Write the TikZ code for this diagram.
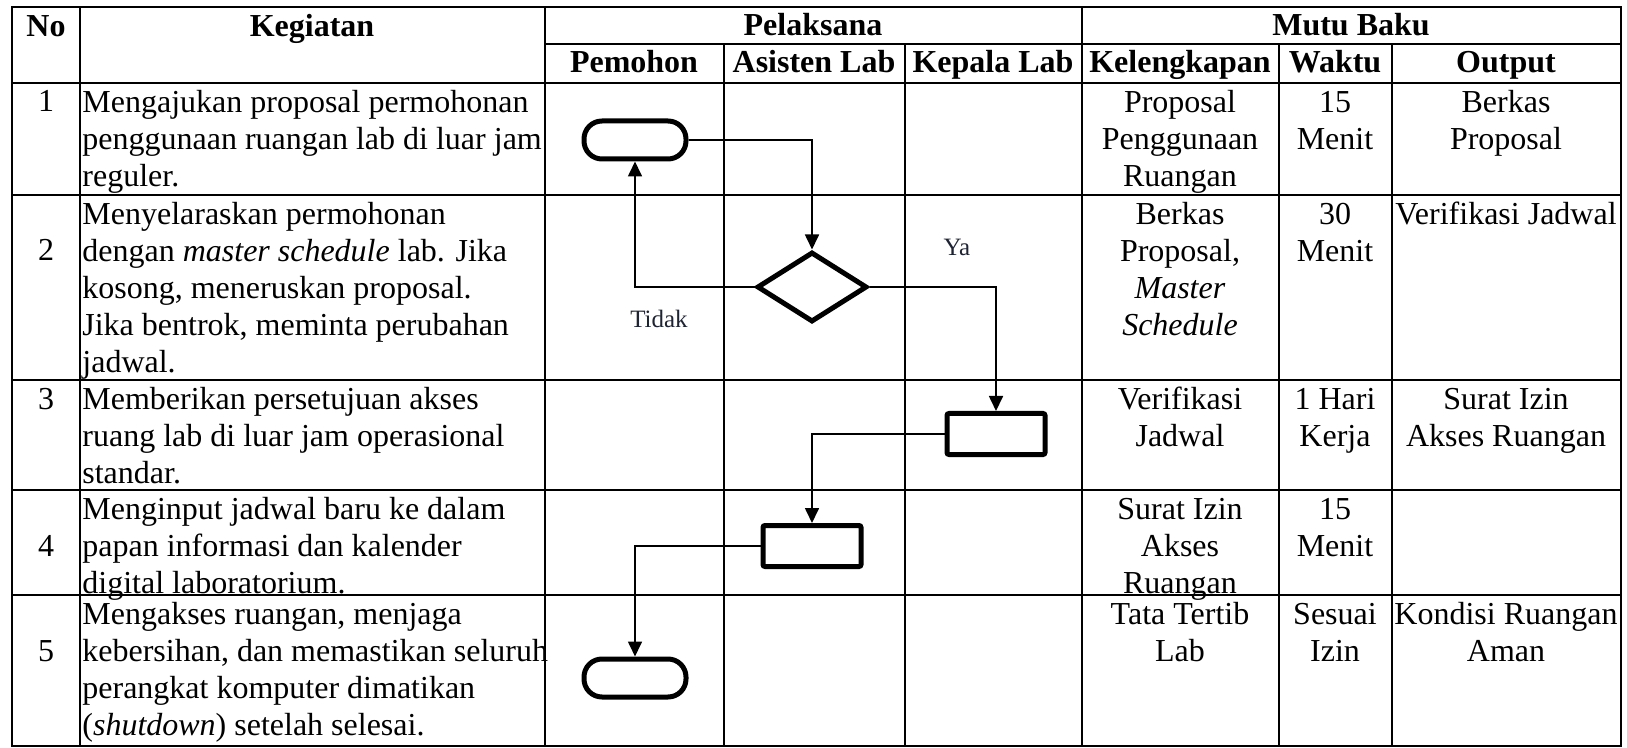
\documentclass[tikz,border=0pt]{standalone}
\usepackage{fontspec}
\setmainfont{Liberation Serif}
\usetikzlibrary{shapes.geometric,arrows.meta}
\definecolor{labc}{RGB}{30,36,52}
\begin{document}
\begin{tikzpicture}[x=0.5pt,y=-0.5pt,
  grid/.style={line width=1.35pt},
  body/.style={font=\fontsize{16}{18.5}\selectfont, inner sep=0pt},
  head/.style={font=\fontsize{16}{18.5}\selectfont\bfseries, inner sep=0pt, anchor=base},
  num/.style={body, anchor=base},
  lcell/.style={body, anchor=north west, align=left},
  ccell/.style={body, anchor=north, align=center},
  term/.style={draw, line width=2.5pt, rounded corners=9pt, minimum width=51pt, minimum height=19pt, inner sep=0pt},
  proc/.style={draw, line width=2.5pt, rounded corners=1pt, minimum width=49pt, minimum height=20.5pt, inner sep=0pt},
  dec/.style={draw, diamond, line width=2.5pt, minimum width=55pt, minimum height=35pt, inner sep=0pt},
  flow/.style={line width=0.85pt, -{Triangle[length=7.5pt,width=7pt]}},
  lab/.style={font=\fontsize{12.5}{15}\selectfont, text=labc, inner sep=0pt}
]
\useasboundingbox (0,0) rectangle (1627,748);
% table grid
\draw[grid] (12,7) rectangle (1621,746);
\foreach \x in {80,545,1082} \draw[grid] (\x,7) -- (\x,746);
\foreach \x in {724,905,1279,1392} \draw[grid] (\x,44) -- (\x,746);
\draw[grid] (545,44) -- (1621,44);
\foreach \y in {83,195,380,490,595} \draw[grid] (12,\y) -- (1621,\y);
% headers
\node[head] (hno) at (46,37) {No};
\node[head] (hkeg) at (312,37) {Kegiatan};
\node[head] (hpel) at (813,36) {Pelaksana};
\node[head] (hmutu) at (1351,36) {Mutu Baku};
\node[head] (hpem) at (634,73) {Pemohon};
\node[head] (hasi) at (814,73) {Asisten Lab};
\node[head] (hkep) at (993,73) {Kepala Lab};
\node[head] (hkel) at (1180,73) {Kelengkapan};
\node[head] (hwak) at (1335,73) {Waktu};
\node[head] (hout) at (1506,73) {Output};
% numbers
\node[num] (n1) at (46,112) {1};
\node[num] (n2) at (46,261) {2};
\node[num] (n3) at (46,409) {3};
\node[num] (n4) at (46,556) {4};
\node[num] (n5) at (46,661) {5};
% kegiatan
\node[lcell] (k1) at (82,86) {\strut Mengajukan proposal permohonan\\penggunaan ruangan lab di luar jam\\reguler.};
\node[lcell] (k2) at (82,198) {\strut Menyelaraskan permohonan\\dengan \textit{master schedule} lab. Jika\\kosong, meneruskan proposal.\\Jika bentrok, meminta perubahan\\jadwal.};
\node[lcell] (k3) at (82,383) {\strut Memberikan persetujuan akses\\ruang lab di luar jam operasional\\standar.};
\node[lcell] (k4) at (82,493) {\strut Menginput jadwal baru ke dalam\\papan informasi dan kalender\\digital laboratorium.};
\node[lcell] (k5) at (82,598) {\strut Mengakses ruangan, menjaga\\kebersihan, dan memastikan seluruh\\perangkat komputer dimatikan\\(\textit{shutdown}) setelah selesai.};
% mutu baku
\node[ccell] (a1) at (1180,86) {\strut Proposal\\Penggunaan\\Ruangan};
\node[ccell] (b1) at (1335,86) {\strut 15\\Menit};
\node[ccell] (c1) at (1506,86) {\strut Berkas\\Proposal};
\node[ccell] (a2) at (1180,198) {\strut Berkas\\Proposal,\\\textit{Master}\\\textit{Schedule}};
\node[ccell] (b2) at (1335,198) {\strut 30\\Menit};
\node[ccell] (c2) at (1506,198) {\strut Verifikasi Jadwal};
\node[ccell] (a3) at (1180,383) {\strut Verifikasi\\Jadwal};
\node[ccell] (b3) at (1335,383) {\strut 1 Hari\\Kerja};
\node[ccell] (c3) at (1506,383) {\strut Surat Izin\\Akses Ruangan};
\node[ccell] (a4) at (1180,493) {\strut Surat Izin\\Akses\\Ruangan};
\node[ccell] (b4) at (1335,493) {\strut 15\\Menit};
\node[ccell] (a5) at (1180,598) {\strut Tata Tertib\\Lab};
\node[ccell] (b5) at (1335,598) {\strut Sesuai\\Izin};
\node[ccell] (c5) at (1506,598) {\strut Kondisi Ruangan\\Aman};
% flowchart
\node[term] (t1) at (635,140) {};
\node[dec] (d) at (812,287) {};
\node[proc] (r1) at (996,434) {};
\node[proc] (r2) at (812,546) {};
\node[term] (t2) at (635,678) {};
\draw[flow] (t1.east) -| (d.north);
\draw[flow] (d.west) -| (t1.south);
\draw[flow] (d.east) -| (r1.north);
\draw[flow] (r1.west) -| (r2.north);
\draw[flow] (r2.west) -| (t2.north);
\node[lab] (ya) at (957,247) {Ya};
\node[lab] (tidak) at (659,319) {Tidak};
\end{tikzpicture}
\end{document}
